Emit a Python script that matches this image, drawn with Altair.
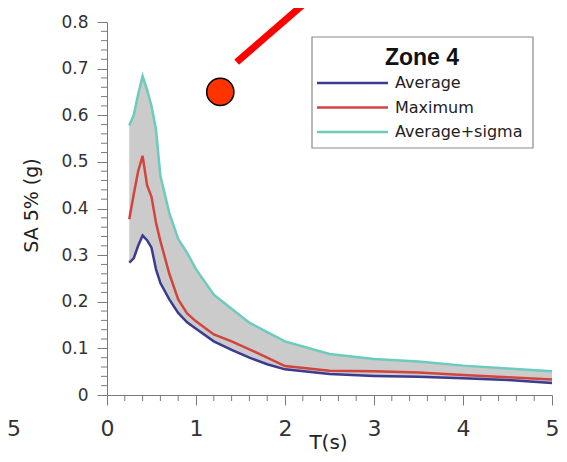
import altair as alt
import pandas as pd

# ---- data ----
periods = [0.25, 0.3, 0.35, 0.4, 0.45, 0.5, 0.55, 0.6, 0.7, 0.8, 0.9, 1.0,
           1.2, 1.4, 1.6, 1.8, 2.0, 2.5, 3.0, 3.5, 4.0, 4.5, 5.0]
average = [0.284, 0.293, 0.320, 0.342, 0.332, 0.316, 0.270, 0.240, 0.205, 0.176, 0.156, 0.142,
           0.115, 0.097, 0.080, 0.066, 0.055, 0.045, 0.041, 0.039, 0.036, 0.032, 0.026]
maximum = [0.377, 0.430, 0.480, 0.513, 0.450, 0.425, 0.370, 0.330, 0.260, 0.205, 0.175, 0.158,
           0.130, 0.115, 0.098, 0.080, 0.062, 0.052, 0.051, 0.048, 0.043, 0.038, 0.033]
avg_sigma = [0.578, 0.600, 0.645, 0.684, 0.655, 0.620, 0.570, 0.470, 0.390, 0.335, 0.305, 0.270,
             0.215, 0.185, 0.155, 0.135, 0.115, 0.088, 0.077, 0.072, 0.063, 0.057, 0.051]

series_names = ["Average", "Maximum", "Average+sigma"]
series_colors = ["#3b3b8f", "#d2453f", "#6ccbbf"]
legend_title = "Zone 4"

x_major = [0, 1, 2, 3, 4, 5]
x_minor = [0.2, 0.4, 0.6, 0.8, 1.2, 1.4, 1.6, 1.8, 2.2, 2.4, 2.6, 2.8,
           3.2, 3.4, 3.6, 3.8, 4.2, 4.4, 4.6, 4.8]
y_major = [0, 0.1, 0.2, 0.3, 0.4, 0.5, 0.6, 0.7, 0.8]
y_minor = [0.02, 0.04, 0.06, 0.08, 0.12, 0.14, 0.16, 0.18, 0.22, 0.24, 0.26, 0.28,
           0.32, 0.34, 0.36, 0.38, 0.42, 0.44, 0.46, 0.48, 0.52, 0.54, 0.56, 0.58,
           0.62, 0.64, 0.66, 0.68, 0.72, 0.74, 0.76, 0.78]

dot_T = [1.273]
dot_SA = [0.65]
pointer_T = [1.457]
pointer_SA = [0.714]
pointer_T2 = [2.28]
pointer_SA2 = [0.85]

# ---- tables ----
band = pd.DataFrame({"T": periods, "lo": average, "hi": avg_sigma})
long_rows = []
for name, vals in zip(series_names, [average, maximum, avg_sigma]):
    for t, v in zip(periods, vals):
        long_rows.append({"T": t, "SA": v, "series": name})
lines_df = pd.DataFrame(long_rows)

xs = alt.Scale(domain=[0, 5], nice=False)
ys = alt.Scale(domain=[0, 0.8], nice=False)
cs = alt.Scale(domain=series_names, range=series_colors)

AX = "#7a7a7a"
FONT = "DejaVu Sans"

x_axis = alt.Axis(values=x_major, format="d", title="T(s)", grid=False, tickSize=10,
                  tickColor=AX, domainColor=AX, labelFont=FONT, labelFontSize=22,
                  labelColor="#333333", labelPadding=13, labelFlush=False,
                  titleFont=FONT, titleFontSize=20, titleFontWeight="normal",
                  titleColor="#222222", titleX=221, titleY=53,
                  titleBaseline="alphabetic")
y_axis = alt.Axis(values=y_major, title="SA 5% (g)", grid=False, tickSize=10,
                  tickColor=AX, domainColor=AX, labelFont=FONT, labelFontSize=17,
                  labelColor="#333333", labelPadding=9,
                  labelExpr="datum.value == 0 ? '0' : format(datum.value, '.1f')",
                  titleFont=FONT, titleFontSize=19, titleFontWeight="normal",
                  titleColor="#222222", titleX=-70, titleY=183,
                  titleBaseline="alphabetic", titleAngle=-90)

area = alt.Chart(band).mark_area(color="#cbcbcb", opacity=1).encode(
    x=alt.X("T:Q", scale=xs, axis=x_axis),
    y=alt.Y("lo:Q", scale=ys, axis=y_axis),
    y2="hi:Q",
)

lines = alt.Chart(lines_df).mark_line(strokeWidth=2.5).encode(
    x=alt.X("T:Q", scale=xs),
    y=alt.Y("SA:Q", scale=ys),
    color=alt.Color("series:N", scale=cs, legend=None),
    order=alt.Order("series:N", sort="descending"),
)

xminor = alt.Chart(pd.DataFrame({"v": x_minor})).mark_rule(color=AX).encode(
    x=alt.X("v:Q", scale=xs), y=alt.value(373), y2=alt.value(379))
yminor = alt.Chart(pd.DataFrame({"v": y_minor})).mark_rule(color=AX).encode(
    y=alt.Y("v:Q", scale=ys), x=alt.value(-6), x2=alt.value(0))

pointer = alt.Chart(pd.DataFrame({"a": pointer_T, "b": pointer_SA,
                                  "c": pointer_T2, "d": pointer_SA2})).mark_rule(
    color="#ff0000", strokeWidth=7).encode(
    x=alt.X("a:Q", scale=xs), y=alt.Y("b:Q", scale=ys), x2="c:Q", y2="d:Q")

dot = alt.Chart(pd.DataFrame({"T": dot_T, "SA": dot_SA})).mark_point(
    filled=True, fill="#ff3300", stroke="black", strokeWidth=1.5, opacity=1,
    size=740, shape="circle").encode(
    x=alt.X("T:Q", scale=xs), y=alt.Y("SA:Q", scale=ys))

frag = alt.Chart(pd.DataFrame({"t": ["5"]})).mark_text(
    font=FONT, fontSize=22, color="#333333", baseline="top").encode(
    text="t:N", x=alt.value(-93), y=alt.value(397))

# ---- legend box (built from marks, placed in the plot's pixel frame) ----
LX, LY, LW, LH = 205, 15, 221, 111
ROW0, ROWSTEP = 61, 24.5
leg_df = pd.DataFrame({"series": series_names, "i": list(range(len(series_names)))})

leg_box = alt.Chart(pd.DataFrame({"k": [0]})).mark_rect(
    fill="white", stroke="#8a8a8a", strokeWidth=1.2).encode(
    x=alt.value(LX), x2=alt.value(LX + LW), y=alt.value(LY), y2=alt.value(LY + LH))
leg_title = alt.Chart(pd.DataFrame({"t": [legend_title]})).mark_text(
    font="Liberation Sans", fontSize=23, fontWeight="bold", color="#111111",
    align="center", baseline="middle").encode(
    text="t:N", x=alt.value(LX + 110), y=alt.value(LY + 21))
leg_sym = alt.Chart(leg_df).mark_rule(strokeWidth=2.5).transform_calculate(
    yy=f"{ROW0} + {ROWSTEP} * datum.i").encode(
    x=alt.value(LX + 5), x2=alt.value(LX + 76),
    y=alt.Y("yy:Q", scale=None), color=alt.Color("series:N", scale=cs, legend=None))
leg_lab = alt.Chart(leg_df).mark_text(
    font=FONT, fontSize=16, color="#222222", align="left", baseline="middle").transform_calculate(
    yy=f"{ROW0} + {ROWSTEP} * datum.i").encode(
    x=alt.value(LX + 83), y=alt.Y("yy:Q", scale=None), text="series:N")

chart = alt.layer(area, lines, xminor, yminor, pointer, dot, frag,
                  leg_box, leg_title, leg_sym, leg_lab).properties(
    width=445, height=373,
    autosize=alt.AutoSizeParams(type="none"),
    padding={"left": 99, "top": 14, "right": 7, "bottom": 59},
).configure_view(stroke=None)

chart.save("out.html", embed_options={"renderer": "svg", "actions": False})
